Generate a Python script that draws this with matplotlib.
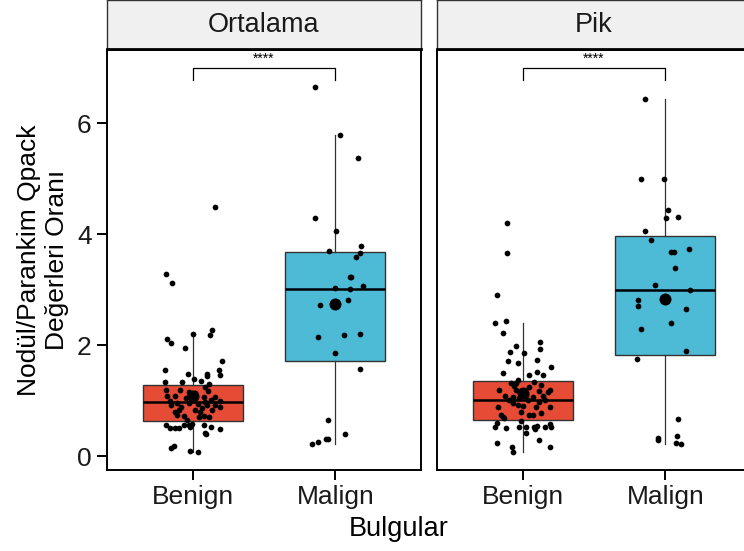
import matplotlib
matplotlib.use('Agg')
import matplotlib.pyplot as plt

plt.rcParams['font.family'] = ['Liberation Sans', 'DejaVu Sans']

categories = ['Benign', 'Malign']
facets = ['Ortalama', 'Pik']
yticks = [0, 2, 4, 6]
x_title = 'Bulgular'
y_title = 'Nodül/Parankim Qpack\nDeğerleri Oranı'
signif = '****'
colors = ['#E64B35', '#4DBBD5']

# box statistics: (q1, median, q3, whisker low, whisker high, mean)
ort_benign_box = [0.64, 0.98, 1.28, 0.08, 2.20, 1.08]
ort_malign_box = [1.72, 3.02, 3.68, 0.21, 5.79, 2.75]
pik_benign_box = [0.65, 1.02, 1.35, 0.07, 2.40, 1.13]
pik_malign_box = [1.83, 3.00, 3.97, 0.22, 6.43, 2.84]

# individual observations and their horizontal jitter (category units)
ort_benign_vals = [4.49, 3.28, 3.12, 2.20, 2.27, 2.18, 2.11, 2.04, 1.95, 1.71, 1.56, 1.55, 1.46, 1.48,
                   1.48, 1.44, 1.39, 1.36, 1.33, 1.33, 1.30, 1.25,
                   1.19, 1.08, 1.08, 1.16, 1.10, 1.06, 1.01, 1.01, 1.06, 1.00, 0.89, 1.00, 0.92, 0.83,
                   0.75, 0.72, 0.83, 0.80, 0.72, 0.70, 0.65, 0.70, 0.89, 0.96, 0.94, 0.86, 0.92, 0.84,
                   1.04, 1.14, 0.80, 1.07, 1.18, 1.19, 0.98, 0.95, 0.92,
                   0.56, 0.50, 0.50, 0.50, 0.56, 0.53, 0.58, 0.56, 0.52, 0.49, 0.42, 0.39, 0.56,
                   0.15, 0.18, 0.10, 0.07]
ort_benign_jit = [0.158, -0.187, -0.144, 0.0, 0.137, 0.123, -0.18, -0.151, -0.053, 0.208, -0.194, 0.187,
                  0.194, -0.032, 0.102, 0.102, 0.011, 0.06, -0.194, -0.074, 0.116, 0.088,
                  -0.19, -0.18, -0.125, -0.027, -0.015, 0.008, -0.004, 0.13, 0.16, 0.19, 0.19, -0.16,
                  -0.15, -0.097, -0.109, -0.062, 0.02, 0.055, 0.079, 0.114, -0.039, 0.044, -0.079,
                  -0.022, 0.039, 0.067, 0.102, 0.137, -0.05, 0.015, -0.125, 0.079, 0.109, -0.086,
                  0.09, -0.109, 0.16,
                  -0.19, -0.156, -0.121, -0.093, -0.058, -0.015, -0.004, 0.079, 0.13, 0.19, 0.09,
                  0.097, -0.027, -0.151, -0.128, -0.015, 0.039]

ort_malign_vals = [6.65, 5.79, 5.37, 4.29, 4.05, 3.79, 3.69, 3.67, 3.59, 3.22, 3.23, 3.06, 3.03, 3.01,
                   2.81, 2.72, 2.21, 2.18, 2.14, 1.86, 1.57, 0.65, 0.40, 0.31, 0.30, 0.25, 0.21]
ort_malign_jit = [-0.141, 0.035, 0.162, -0.141, 0.007, 0.183, -0.042, 0.176, 0.148, 0.113, 0.104,
                  0.197, 0.0, 0.106, 0.092, -0.106, 0.176, 0.063, -0.12, 0.0, 0.176, -0.049, 0.07,
                  -0.049, -0.063, -0.12, -0.162]

pik_benign_vals = [4.20, 3.66, 2.91, 2.40, 2.44, 2.22, 1.98, 1.87, 2.06, 1.93, 1.86, 1.71, 1.68, 1.73,
                   1.60, 1.50, 1.47, 1.52, 1.46, 1.37,
                   1.31, 1.26, 1.34, 1.20, 1.08, 1.01, 0.95, 0.92, 0.90, 1.01, 1.07, 1.18, 1.08, 1.16,
                   1.19, 1.01, 0.89, 0.88, 0.74, 0.70, 0.80, 0.74, 0.74, 0.78, 0.98, 0.68, 1.07, 1.19,
                   1.04, 1.10, 1.25, 1.32, 1.28, 0.89,
                   0.59, 0.52, 0.50, 0.53, 0.53, 0.41, 0.53, 0.48, 0.53, 0.58, 0.53, 0.64, 0.29, 0.23,
                   0.17, 0.07, 0.17, 0.54]
pik_benign_jit = [-0.112, -0.112, -0.182, -0.196, -0.119, -0.14, -0.049, -0.091, 0.119, 0.119, 0.007,
                  -0.105, -0.035, 0.098, 0.196, -0.14, 0.042, 0.098, 0.14, -0.035,
                  -0.082, -0.058, 0.082, -0.163, -0.121, -0.093, -0.07, -0.035, 0.0, 0.035, 0.07,
                  0.112, 0.14, 0.175, 0.191, 0.159, 0.191, -0.175, -0.152, -0.14, -0.012, 0.047, 0.07,
                  0.128, 0.117, -0.128, -0.07, -0.047, -0.023, 0.023, 0.047, -0.047, 0.128, 0.093,
                  -0.182, -0.194, -0.117, -0.028, 0.023, 0.023, 0.082, 0.089, 0.156, 0.191, 0.198,
                  -0.012, 0.117, -0.18, -0.072, -0.07, 0.189, 0.098]

pik_malign_vals = [6.43, 4.99, 4.99, 4.43, 4.31, 4.29, 4.05, 3.89, 3.74, 3.68, 3.68, 3.39, 3.08, 2.99,
                   2.82, 2.70, 2.65, 2.40, 2.29, 1.90, 1.75, 0.67, 0.36, 0.33, 0.29, 0.24, 0.22]
pik_malign_jit = [-0.14, -0.168, -0.007, 0.021, 0.091, 0.007, -0.14, -0.098, 0.168, 0.042, 0.063,
                  0.07, -0.07, 0.175, -0.189, -0.189, 0.147, 0.042, -0.168, 0.147, -0.196, 0.091,
                  0.084, -0.049, -0.049, 0.077, 0.112]

panels = [
    (facets[0], [ort_benign_box, ort_malign_box], [(ort_benign_vals, ort_benign_jit), (ort_malign_vals, ort_malign_jit)]),
    (facets[1], [pik_benign_box, pik_malign_box], [(pik_benign_vals, pik_benign_jit), (pik_malign_vals, pik_malign_jit)]),
]

W, H = 744, 551
fig = plt.figure(figsize=(W / 100, H / 100), dpi=100)
panel_left = [107, 437]
panel_w = 314
panel_bottom, panel_top = 470, 50
strip_top = 0

for i, (fname, boxes, pts) in enumerate(panels):
    ax = fig.add_axes([panel_left[i] / W, 1 - panel_bottom / H, panel_w / W, (panel_bottom - panel_top) / H])
    stats = []
    for b in boxes:
        stats.append(dict(q1=b[0], med=b[1], q3=b[2], whislo=b[3], whishi=b[4], fliers=[]))
    bp = ax.bxp(stats, positions=[1, 2], widths=0.7, patch_artist=True, showfliers=False,
                showcaps=False,
                boxprops=dict(edgecolor='#333333', linewidth=1.0),
                medianprops=dict(color='black', linewidth=1.8),
                whiskerprops=dict(color='#333333', linewidth=0.9))
    for patch, c in zip(bp['boxes'], colors):
        patch.set_facecolor(c)
    for k, (vals, jit) in enumerate(pts):
        xs = [k + 1 + j for j in jit]
        ax.scatter(xs, vals, s=17, color='black', zorder=4, linewidths=0)
    for k, b in enumerate(boxes):
        ax.scatter([k + 1], [b[5]], s=75, color='black', zorder=5, linewidths=0)
    # significance bracket
    ax.plot([1, 1, 2, 2], [6.78, 6.99, 6.99, 6.78], color='black', linewidth=0.9, zorder=3)
    ax.text(1.5, 7.04, signif, ha='center', va='bottom', fontsize=10)

    ax.set_xlim(0.4, 2.6)
    ax.set_ylim(-0.25, 7.32)
    ax.set_xticks([1, 2])
    ax.set_xticklabels(categories, fontsize=19, color='#1a1a1a')
    ax.set_yticks(yticks)
    for s in ax.spines.values():
        s.set_color('black')
        s.set_linewidth(1.4)
    ax.tick_params(axis='x', length=7, width=1.4, color='black', pad=4)
    if i == 0:
        ax.set_yticklabels([str(t) for t in yticks], fontsize=19, color='#1a1a1a')
        ax.tick_params(axis='y', length=7, width=1.4, color='black', pad=4)
    else:
        ax.tick_params(axis='y', left=False, labelleft=False)

    sax = fig.add_axes([panel_left[i] / W, 1 - (panel_top - 1) / H, panel_w / W, (panel_top - 1 - strip_top) / H])
    sax.set_facecolor('#F0F0F0')
    sax.set_xticks([])
    sax.set_yticks([])
    for s in sax.spines.values():
        s.set_color('#333333')
        s.set_linewidth(1.0)
    sax.spines['bottom'].set_color('black')
    sax.spines['bottom'].set_linewidth(2.0)
    sax.text(0.5, 0.5, fname, ha='center', va='center', fontsize=19.5, color='#1a1a1a',
             transform=sax.transAxes)

fig.text(43 / W, 1 - 260 / H, y_title, rotation=90, ha='center', va='center', fontsize=19,
         color='black', multialignment='center', linespacing=1.2)
fig.text(399 / W, 1 - 529 / H, x_title, ha='center', va='center', fontsize=19.5, color='black')

fig.savefig('out.png', dpi=100)
